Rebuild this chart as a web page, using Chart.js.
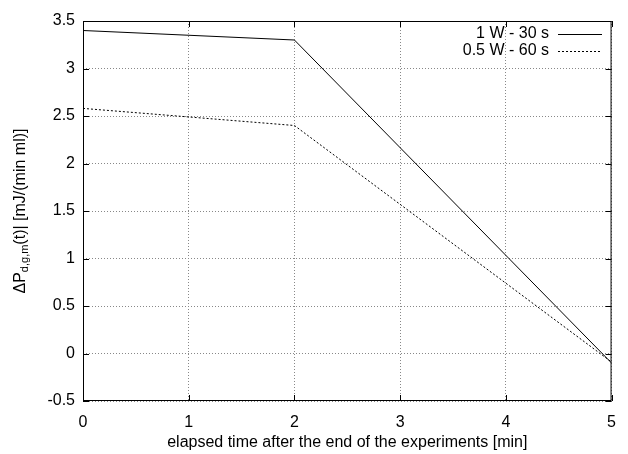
<!DOCTYPE html>
<html>
<head>
<meta charset="utf-8">
<script src="https://cdn.jsdelivr.net/npm/chart.js@4/dist/chart.umd.min.js"></script>
<style>
  html, body { margin: 0; padding: 0; background: #fff; }
  #wrap { width: 628px; height: 454px; }
</style>
</head>
<body>
<div id="wrap"><canvas id="chart" width="628" height="454"></canvas></div>
<script>
// data
var timeMin = [0, 2, 5];
var power1W = [3.40, 3.30, -0.10];
var power05W = [2.58, 2.40, -0.09];
var seriesNames = ["1 W - 30 s", "0.5 W - 60 s"];
var xTitle = "elapsed time after the end of the experiments [min]";

var FONT = "'Liberation Sans', Arial, Helvetica, sans-serif";

function pts(xs, ys) {
	return xs.map(function(x, i) { return {x: x, y: ys[i]}; });
}

// frame, inward ticks, legend and axis titles in gnuplot style
var decor = {
	id: 'decor',
	afterDraw: function(chart) {
		var ctx = chart.ctx, a = chart.chartArea;
		var xs = chart.scales.x, ys = chart.scales.y;
		ctx.save();
		ctx.strokeStyle = '#000';
		ctx.lineWidth = 1;
		ctx.setLineDash([]);
		ctx.strokeRect(a.left + 0.5, a.top + 0.5, a.right - a.left - 1, a.bottom - a.top - 1);

		// inward tick marks on all four sides
		ctx.beginPath();
		xs.ticks.forEach(function(t) {
			var px = Math.round(xs.getPixelForValue(t.value)) + 0.5;
			ctx.moveTo(px, a.bottom); ctx.lineTo(px, a.bottom - 6);
			ctx.moveTo(px, a.top); ctx.lineTo(px, a.top + 6);
		});
		ys.ticks.forEach(function(t) {
			var py = Math.round(ys.getPixelForValue(t.value)) + 0.5;
			ctx.moveTo(a.left, py); ctx.lineTo(a.left + 6, py);
			ctx.moveTo(a.right, py); ctx.lineTo(a.right - 6, py);
		});
		ctx.stroke();

		// legend
		ctx.font = '16px ' + FONT;
		ctx.fillStyle = '#000';
		ctx.textAlign = 'right';
		ctx.textBaseline = 'middle';
		chart.data.datasets.forEach(function(ds, i) {
			var y = 34 + i * 17;
			ctx.fillText(ds.label, 549, y);
			ctx.beginPath();
			ctx.setLineDash(ds.borderDash || []);
			ctx.moveTo(558, y + 0.5); ctx.lineTo(602, y + 0.5);
			ctx.stroke();
		});
		ctx.setLineDash([]);

		// x title
		ctx.textAlign = 'center';
		ctx.fillText(xTitle, (a.left + a.right) / 2, 443);

		// y title with subscript
		ctx.translate(21, (a.top + a.bottom) / 2);
		ctx.rotate(-Math.PI / 2);
		var parts = [["\u0394P", 16, 0], ["d,g,m", 11, 4], ["(t)| [mJ/(min ml)]", 16, 0]];
		var total = 0;
		parts.forEach(function(p) { ctx.font = p[1] + 'px ' + FONT; total += ctx.measureText(p[0]).width; });
		var x0 = -total / 2;
		ctx.textAlign = 'left';
		parts.forEach(function(p) {
			ctx.font = p[1] + 'px ' + FONT;
			ctx.fillText(p[0], x0, p[2]);
			x0 += ctx.measureText(p[0]).width;
		});
		ctx.restore();
	}
};

function plainTick(v) { return String(Math.round(v * 10) / 10); }

window.onload = function() {
	var ctx = document.getElementById("chart").getContext("2d");
	new Chart(ctx, {
		type: 'line',
		data: {
			datasets: [
				{label: seriesNames[0], data: pts(timeMin, power1W), borderColor: '#000', borderWidth: 1, pointRadius: 0, tension: 0, fill: false},
				{label: seriesNames[1], data: pts(timeMin, power05W), borderColor: '#000', borderWidth: 1, borderDash: [2, 2], pointRadius: 0, tension: 0, fill: false}
			]
		},
		options: {
			responsive: false,
			animation: false,
			layout: {padding: {top: 21, right: 6, left: 0, bottom: 0}},
			plugins: {legend: {display: false}, tooltip: {enabled: false}},
			scales: {
				x: {
					type: 'linear', min: 0, max: 5,
					ticks: {stepSize: 1, color: '#000', padding: 12, font: {family: FONT, size: 16}, callback: plainTick},
					grid: {color: '#888', drawTicks: false},
					border: {display: false, dash: [1, 2]},
					afterFit: function(s) { s.height = 53; }
				},
				y: {
					type: 'linear', min: -0.5, max: 3.5,
					ticks: {stepSize: 0.5, color: '#000', padding: 8, font: {family: FONT, size: 16}, callback: plainTick},
					grid: {color: '#888', drawTicks: false},
					border: {display: false, dash: [1, 2]},
					afterFit: function(s) { s.width = 83; }
				}
			}
		},
		plugins: [decor]
	});
};
</script>
</body>
</html>
